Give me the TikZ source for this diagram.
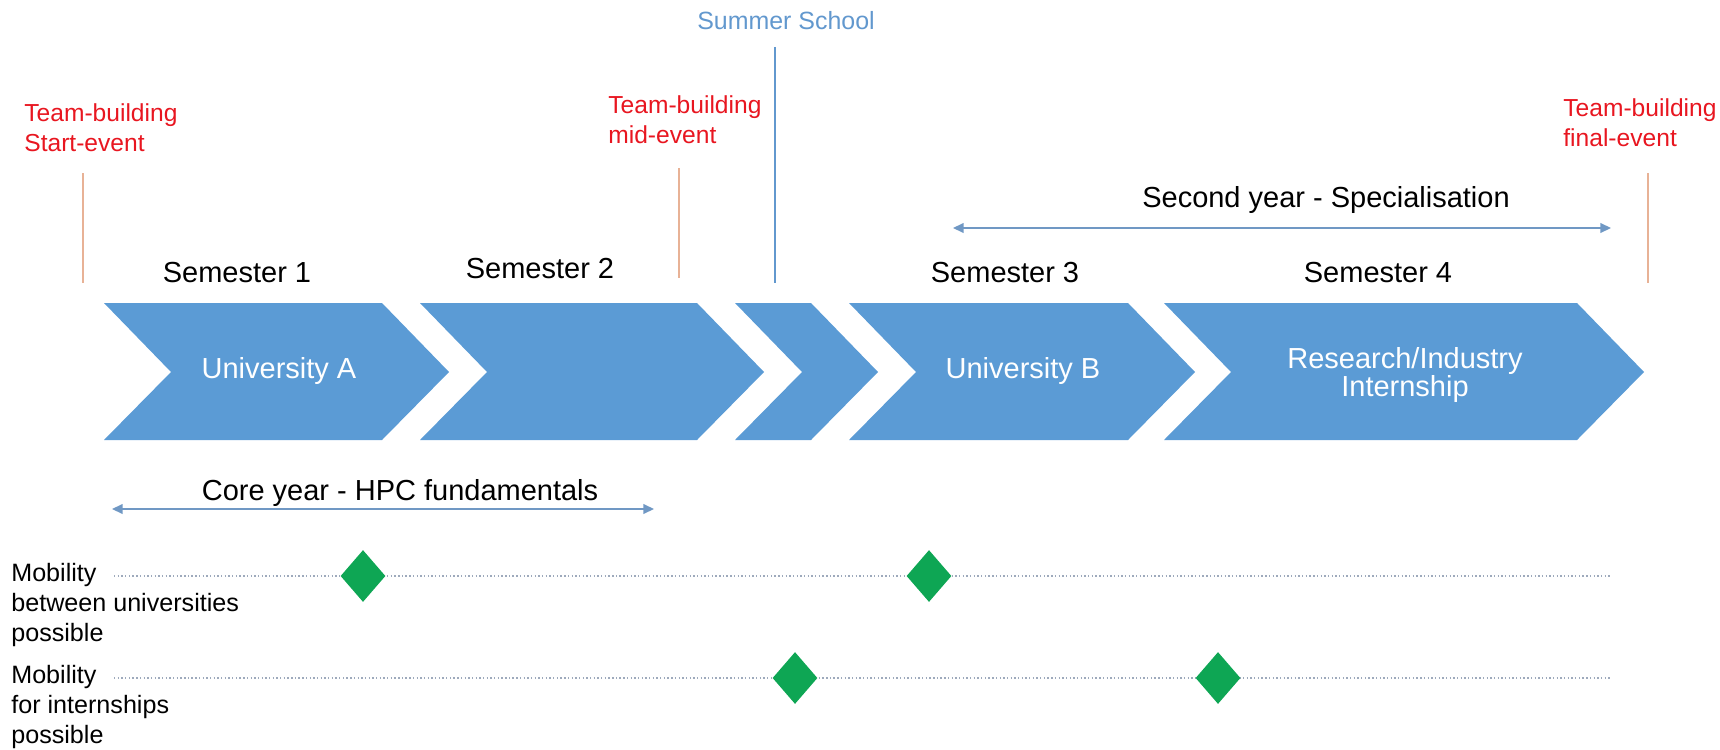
\documentclass[tikz,border=0pt]{standalone}
\usepackage{fontspec}
\setmainfont{Liberation Sans}
\usetikzlibrary{arrows.meta,shapes.geometric}
\definecolor{chevblue}{RGB}{91,155,213}
\definecolor{evred}{RGB}{232,22,32}
\definecolor{evline}{RGB}{232,178,150}
\definecolor{summerblue}{RGB}{98,152,206}
\definecolor{spanblue}{RGB}{112,152,196}
\definecolor{trackgrey}{RGB}{158,170,188}
\definecolor{mobgreen}{RGB}{14,166,84}

\begin{document}
\begin{tikzpicture}[x=0.02cm, y=-0.02cm,
      chev/.style = {fill=chevblue},
      sem/.style = {font=\fontsize{16.5}{19}\selectfont, anchor=base, inner sep=0},
      inchev/.style = {font=\fontsize{16.5}{16}\selectfont, text=white, align=center, inner sep=0},
      event/.style = {font=\fontsize{14}{17}\selectfont, text=evred, align=left, anchor=north west, inner sep=0},
      evtick/.style = {draw=evline, line width=0.6pt},
      sumtick/.style = {draw=summerblue, line width=0.6pt},
      span/.style = {draw=spanblue, line width=0.8pt, <->, >={Triangle[length=6pt,width=5.5pt]}},
      track/.style = {draw=trackgrey, line width=0.7pt, dash pattern=on 0.8pt off 1.3pt},
      mob/.style = {diamond, fill=mobgreen, minimum width=0.9cm, minimum height=1.04cm, inner sep=0},
      lbl/.style = {font=\fontsize{14.3}{17}\selectfont, align=left, anchor=north west, inner sep=0}]
      \useasboundingbox (0,0) rectangle (1720,750);

      % chevrons
      \foreach \l/\r in {104/382, 420/697, 735/811, 849/1128, 1164/1577}
        \fill[chev] (\l,303) -- (\r,303) -- (\r+67,372) -- (\r,440) -- (\l,440) -- (\l+67,372) -- cycle;

      \node[inchev] (uniA) at (279,371) {University A};
      \node[inchev] (uniB) at (1023,371) {University B};
      \node[inchev] (intern) at (1405,375) {Research/Industry\\Internship};

      \node[sem] (sem1) at (237,282) {Semester 1};
      \node[sem] (sem2) at (540,278) {Semester 2};
      \node[sem] (sem3) at (1005,282) {Semester 3};
      \node[sem] (sem4) at (1378,282) {Semester 4};
      \node[sem] (second) at (1326,207) {Second year - Specialisation};
      \node[sem] (core) at (400,500) {Core year - HPC fundamentals};

      % events
      \node[event] (tbstart) at (24,103) {Team-building\\Start-event};
      \node[event] (tbmid) at (608,95) {Team-building\\mid-event};
      \node[event] (tbfinal) at (1563,98) {Team-building\\final-event};
      \node[font=\fontsize{14.2}{17}\selectfont, text=summerblue, anchor=base, inner sep=0] (summer) at (786,30) {Summer School};

      \coordinate (startA) at (83,173);
      \coordinate (startB) at (83,283);
      \coordinate (midA) at (679,168);
      \coordinate (midB) at (679,278);
      \coordinate (finalA) at (1648,173);
      \coordinate (finalB) at (1648,283);
      \coordinate (summerA) at (775,47);
      \coordinate (summerB) at (775,283);
      \coordinate (coreL) at (112,509);
      \coordinate (coreR) at (654,509);
      \coordinate (specL) at (953,228);
      \coordinate (specR) at (1611,228);
      \coordinate (uniL) at (114,576);
      \coordinate (uniR) at (1611,576);
      \coordinate (indL) at (114,678);
      \coordinate (indR) at (1611,678);

      \path
      (startA) edge[evtick] (startB)
      (midA) edge[evtick] (midB)
      (finalA) edge[evtick] (finalB)
      (summerA) edge[sumtick] (summerB)
      (coreL) edge[span] (coreR)
      (specL) edge[span] (specR)
      (uniL) edge[track] (uniR)
      (indL) edge[track] (indR);

      % mobility
      \node[lbl] (mobuni) at (11,563) {Mobility\\between universities\\possible};
      \node[lbl] (mobind) at (11,665) {Mobility\\for internships\\possible};
      \node[mob] (u1) at (363,576) {};
      \node[mob] (u2) at (929,576) {};
      \node[mob] (i1) at (795,678) {};
      \node[mob] (i2) at (1218,678) {};
    \end{tikzpicture}
\end{document}
